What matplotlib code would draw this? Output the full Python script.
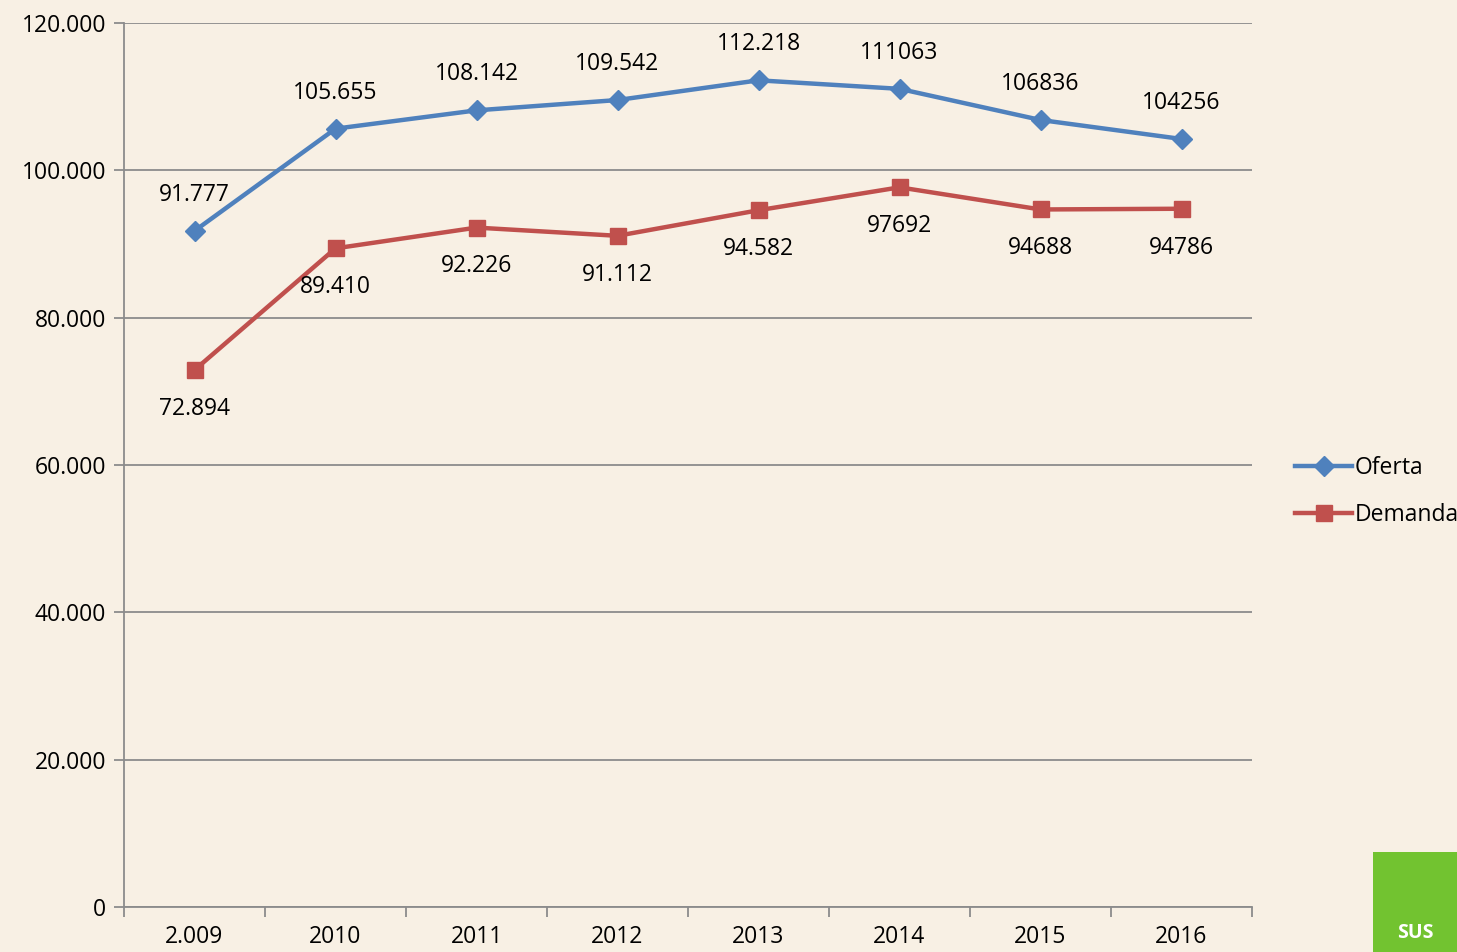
import matplotlib.pyplot as plt
from matplotlib.patches import Rectangle

years = ['2.009', '2010', '2011', '2012', '2013', '2014', '2015', '2016']
oferta = [91777, 105655, 108142, 109542, 112218, 111063, 106836, 104256]
demanda = [72894, 89410, 92226, 91112, 94582, 97692, 94688, 94786]
oferta_labels = ['91.777', '105.655', '108.142', '109.542', '112.218', '111063', '106836', '104256']
demanda_labels = ['72.894', '89.410', '92.226', '91.112', '94.582', '97692', '94688', '94786']
yticks = [0, 20000, 40000, 60000, 80000, 100000, 120000]
ytick_labels = ['0', '20.000', '40.000', '60.000', '80.000', '100.000', '120.000']

bg = '#F8F0E4'
blue = '#4F81BD'
red = '#C0504D'
grid = '#8C8C8C'
fs = 16.5

plt.rcParams['font.family'] = ['Open Sans', 'DejaVu Sans']

fig = plt.figure(figsize=(14.57, 9.52), dpi=100, facecolor=bg)
ax = fig.add_axes([124 / 1457, 1 - 907 / 952, (1252 - 124) / 1457, (907 - 23) / 952])
ax.set_facecolor(bg)

x = list(range(len(years)))
ax.plot(x, oferta, color=blue, lw=3.2, marker='D', ms=10, label='Oferta', zorder=3)
ax.plot(x, demanda, color=red, lw=3.2, marker='s', ms=12, label='Demanda', zorder=3)

for i in x:
    ax.annotate(oferta_labels[i], (i, oferta[i]), xytext=(0, 26), textcoords='offset points',
                ha='center', va='center', fontsize=fs)
    ax.annotate(demanda_labels[i], (i, demanda[i]), xytext=(0, -28), textcoords='offset points',
                ha='center', va='center', fontsize=fs)

ax.set_xlim(-0.5, len(years) - 0.5)
ax.set_ylim(0, 120000)
ax.set_yticks(yticks)
ax.set_yticklabels(ytick_labels, fontsize=fs)
ax.yaxis.grid(True, color=grid, lw=1.3)
ax.set_axisbelow(True)

# category ticks between years, labels centred
ax.set_xticks([i - 0.5 for i in range(len(years) + 1)])
ax.set_xticklabels([])
ax.set_xticks(x, minor=True)
ax.set_xticklabels(years, minor=True, fontsize=fs)
ax.tick_params(axis='x', which='minor', length=0, pad=13)
ax.tick_params(axis='x', which='major', length=7, width=1.3, color=grid)
ax.tick_params(axis='y', length=7, width=1.3, color=grid, pad=6)

for s in ['top', 'right']:
    ax.spines[s].set_visible(False)
for s in ['left', 'bottom']:
    ax.spines[s].set_color(grid)
    ax.spines[s].set_linewidth(1.3)

ax.legend(loc='center left', bbox_to_anchor=(1.02, 0.47), frameon=False, fontsize=fs,
          handlelength=2.5, handletextpad=0.1, labelspacing=1.0)

# logo corner
fig.patches.append(Rectangle((1373 / 1457, 0), 0.1, (952 - 852) / 952, transform=fig.transFigure,
                             facecolor='#72C330', edgecolor='none'))
fig.text(1397 / 1457, 1 - 933 / 952, 'SUS', color='white', fontsize=14, fontweight='bold',
         va='center', ha='left')

fig.savefig('out.png', dpi=100, facecolor=bg)
